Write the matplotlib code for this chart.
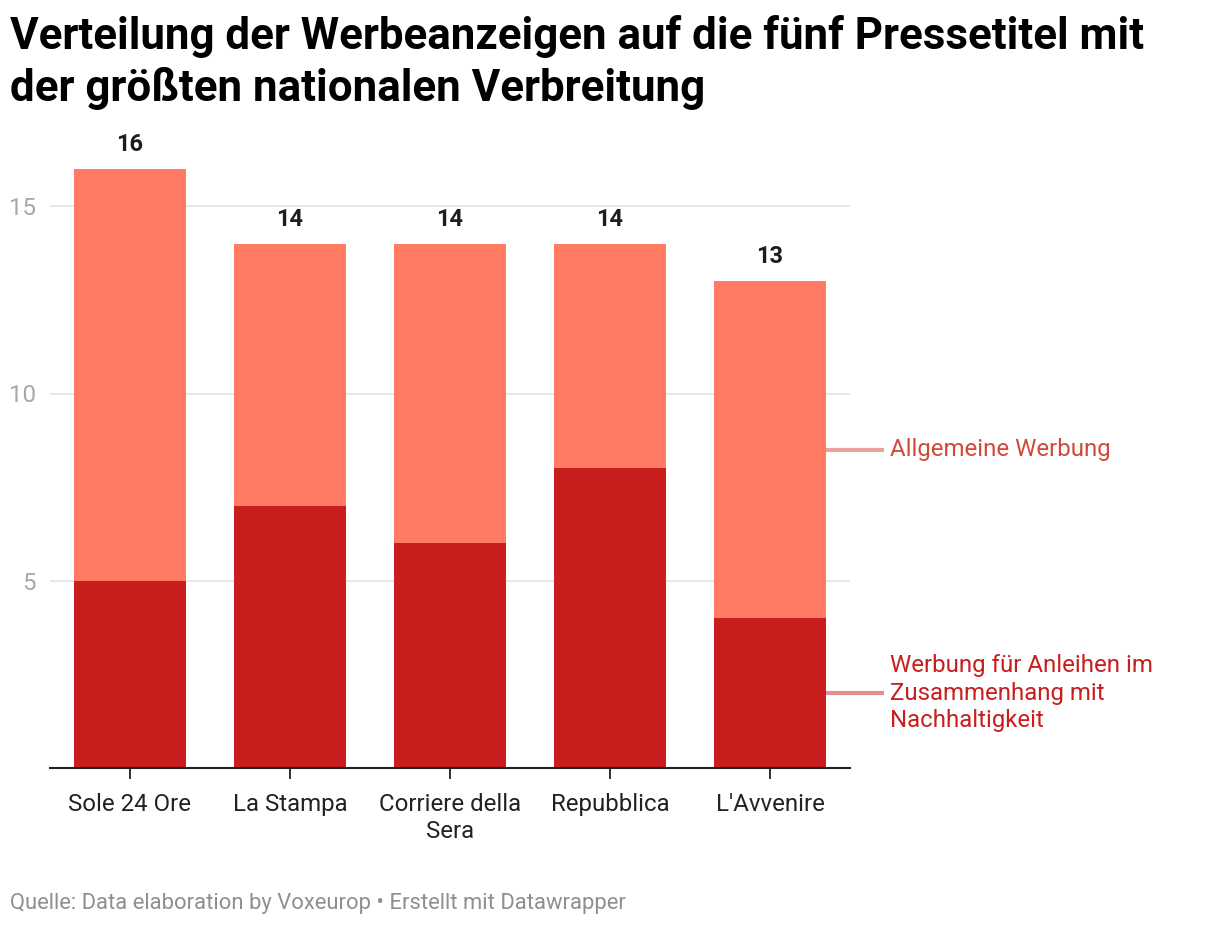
import matplotlib
matplotlib.use("Agg")
import matplotlib.pyplot as plt
import numpy as np

plt.rcParams["font.family"] = ["Roboto", "DejaVu Sans"]

# data
papers = ["Sole 24 Ore", "La Stampa", "Corriere della\nSera", "Repubblica", "L'Avvenire"]
green_bonds = [5, 7, 6, 8, 4]      # Werbung für Anleihen im Zusammenhang mit Nachhaltigkeit
general_ads = [11, 7, 8, 6, 9]     # Allgemeine Werbung
totals = [g + a for g, a in zip(green_bonds, general_ads)]
yticks = [5, 10, 15]

TOP = "#ff7b63"
BOTTOM = "#c81e1e"

fig = plt.figure(figsize=(12.2, 9.26), dpi=100)
# axes in pixels: left 50, right 850, bottom 768 (from top), 0..16 -> 16*37.45 px
W, H = 1220, 926
ax = fig.add_axes([50 / W, (H - 768) / H, 800 / W, (16 * 37.45) / H])

x = np.arange(len(papers))
ax.bar(x, green_bonds, width=0.7, color=BOTTOM, zorder=2)
ax.bar(x, general_ads, width=0.7, bottom=green_bonds, color=TOP, zorder=2)

for xi, t in zip(x, totals):
    ax.text(xi, t + 0.35, str(t), ha="center", va="bottom", fontsize=17,
            fontweight="bold", color="#1d1d1d")

ax.set_xlim(-0.5, 4.5)
ax.set_ylim(0, 16)
ax.set_yticks(yticks)
ax.set_yticklabels([str(v) for v in yticks])
ax.yaxis.grid(True, color="#e6e6e6", linewidth=1.3, zorder=0)
ax.tick_params(axis="y", length=0, pad=10, labelsize=17.3, labelcolor="#a8a8a8")
ax.set_xticks(x)
ax.set_xticklabels(papers, fontsize=17.3, color="#222222", linespacing=1.2)
ax.tick_params(axis="x", length=8, width=1.3, color="#222222", pad=10)
for s in ["top", "right", "left"]:
    ax.spines[s].set_visible(False)
ax.spines["bottom"].set_color("#222222")
ax.spines["bottom"].set_linewidth(1.5)
ax.spines["bottom"].set_zorder(3)

# series labels on the right
last = len(papers) - 1
ax.plot([last + 0.35, last + 0.71], [8.5, 8.5], color="#e8a49b", lw=3,
        clip_on=False, solid_capstyle="butt")
ax.text(last + 0.75, 8.5, "Allgemeine Werbung", ha="left", va="center",
        fontsize=17.3, color="#d04a3a", clip_on=False)
ax.plot([last + 0.35, last + 0.71], [2.0, 2.0], color="#e09090", lw=3,
        clip_on=False, solid_capstyle="butt")
ax.text(last + 0.75, 2.0, "Werbung für Anleihen im\nZusammenhang mit\nNachhaltigkeit",
        ha="left", va="center", fontsize=17.3, color="#c81e1e", linespacing=1.26,
        clip_on=False)

fig.text(10 / W, 1 - 15 / H,
         "Verteilung der Werbeanzeigen auf die fünf Pressetitel mit\n"
         "der größten nationalen Verbreitung",
         ha="left", va="top", fontsize=31.6, fontweight="bold", color="#000000",
         linespacing=1.27)

fig.text(10 / W, 1 - 904 / H,
         "Quelle: Data elaboration by Voxeurop • Erstellt mit Datawrapper",
         ha="left", va="center", fontsize=15.8, color="#8f8f8f")

fig.savefig("out.png", dpi=100)
